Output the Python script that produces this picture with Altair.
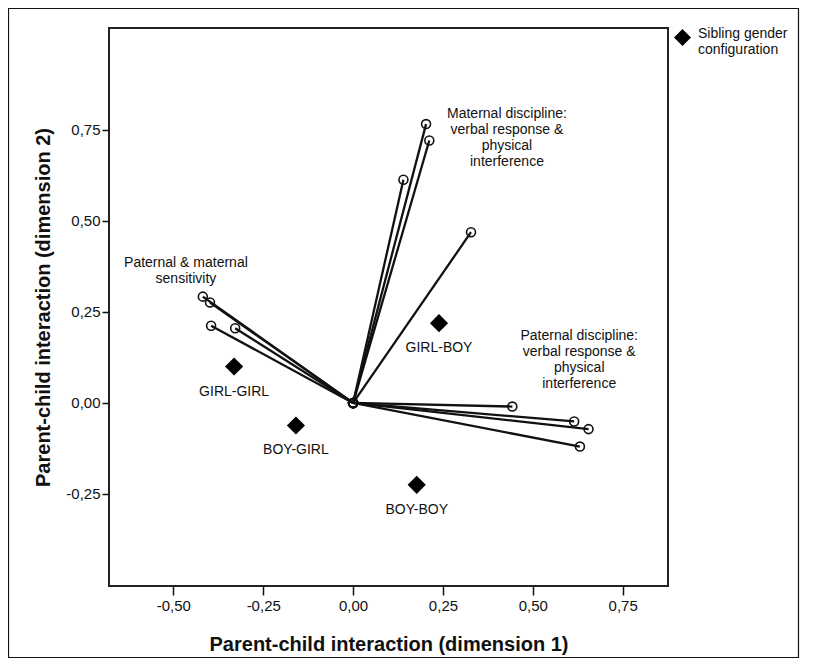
import altair as alt
import pandas as pd

# ---- data ----
maternal_x = [0.203, 0.212, 0.140, 0.328]
maternal_y = [0.766, 0.721, 0.613, 0.469]
sensitivity_x = [-0.418, -0.398, -0.395, -0.328]
sensitivity_y = [0.292, 0.276, 0.212, 0.205]
paternal_x = [0.443, 0.615, 0.655, 0.631]
paternal_y = [-0.010, -0.051, -0.072, -0.120]

groups = ["GIRL-GIRL", "BOY-GIRL", "GIRL-BOY", "BOY-BOY"]
group_x = [-0.331, -0.159, 0.239, 0.177]
group_y = [0.100, -0.062, 0.219, -0.225]

cluster_labels = [
    "Maternal discipline:\nverbal response &\nphysical\ninterference",
    "Paternal discipline:\nverbal response &\nphysical\ninterference",
    "Paternal & maternal\nsensitivity",
]
cluster_label_x = [0.428, 0.629, -0.465]
cluster_label_y = [0.813, 0.203, 0.404]

x_ticks = [-0.5, -0.25, 0, 0.25, 0.5, 0.75]
y_ticks = [-0.25, 0, 0.25, 0.5, 0.75]
x_domain = [-0.679, 0.876]
y_domain = [-0.503, 1.030]
legend_name = "Sibling gender configuration"

# ---- tables ----
rows = []
vid = 0
for xs, ys in [(maternal_x, maternal_y), (sensitivity_x, sensitivity_y), (paternal_x, paternal_y)]:
    for x, y in zip(xs, ys):
        rows.append({"id": vid, "ord": 0, "x": 0.0, "y": 0.0})
        rows.append({"id": vid, "ord": 1, "x": x, "y": y})
        vid += 1
lines_df = pd.DataFrame(rows)
groups_df = pd.DataFrame({"x": group_x, "y": group_y, "label": groups, "legend": legend_name})
labels_df = pd.DataFrame({"x": cluster_label_x, "y": cluster_label_y, "label": cluster_labels})
frame_df = pd.DataFrame({"a": [0]})

FONT = "Liberation Sans"
fmt = "(datum.value < 0 ? '-' : '') + replace(format(abs(datum.value), '.2f'), '.', ',')"

xscale = alt.Scale(domain=x_domain, nice=False, zero=False)
yscale = alt.Scale(domain=y_domain, nice=False, zero=False)
xaxis = alt.Axis(values=x_ticks, labelExpr=fmt, tickSize=9, tickWidth=1.5, tickColor="#111",
                 domain=False, grid=False, labelFontSize=15, labelPadding=3, labelFont=FONT,
                 labelColor="#111", titleFont=FONT, titleFontSize=20, titleFontWeight="bold",
                 titleColor="#111", titlePadding=21)
yaxis = alt.Axis(values=y_ticks, labelExpr=fmt, tickSize=7, tickWidth=1.5, tickColor="#111",
                 domain=False, grid=False, labelFontSize=15, labelPadding=2, labelFont=FONT,
                 labelColor="#111", titleFont=FONT, titleFontSize=20, titleFontWeight="bold",
                 titleColor="#111", titlePadding=12)

X = alt.X("x:Q", scale=xscale, axis=xaxis, title="Parent-child interaction (dimension 1)")
Y = alt.Y("y:Q", scale=yscale, axis=yaxis, title="Parent-child interaction (dimension 2)")

frame = alt.Chart(frame_df).mark_rect(fillOpacity=0, stroke="#111", strokeWidth=1.2).encode(
    x=alt.value(-100.5), x2=alt.value(689.5), y=alt.value(-19.5), y2=alt.value(629.5)
)

lines = alt.Chart(lines_df).mark_line(color="#111", strokeWidth=2.3).encode(
    x=X, y=Y, detail="id:N", order="ord:Q"
)

circles = alt.Chart(lines_df).mark_point(shape="circle", filled=False, size=80, strokeWidth=1.6,
                                         color="#111", opacity=1).encode(x=X, y=Y)

diamonds = alt.Chart(groups_df).mark_point(filled=True, size=330, color="black", opacity=1).encode(
    x=X, y=Y,
    shape=alt.Shape("legend:N", scale=alt.Scale(range=["diamond"]),
                    legend=alt.Legend(title=None, orient="none", legendX=564, legendY=0,
                                      labelExpr="['Sibling gender', 'configuration']",
                                      labelFontSize=14, labelFont=FONT, labelColor="#111",
                                      labelBaseline="alphabetic",
                                      symbolSize=290, symbolType="diamond",
                                      symbolFillColor="black", symbolStrokeColor="black",
                                      padding=0, labelOffset=6)),
)

group_text = alt.Chart(groups_df).mark_text(dy=25, fontSize=14, font=FONT, color="#111",
                                            baseline="middle", align="center").encode(
    x=X, y=Y, text="label:N"
)

cluster_text = alt.Chart(labels_df).mark_text(fontSize=14, font=FONT, color="#111", baseline="top",
                                              align="center", lineBreak="\n", lineHeight=16).encode(
    x=X, y=Y, text="label:N"
)

chart = alt.layer(frame, lines, circles, diamonds, group_text, cluster_text).properties(
    width=559, height=558,
    autosize=alt.AutoSizeParams(type="none"),
    padding={"left": 101, "top": 20, "right": 139, "bottom": 72},
).configure_view(stroke="#222", strokeWidth=2)

chart.save("out.html", embed_options={"renderer": "svg", "actions": False})
